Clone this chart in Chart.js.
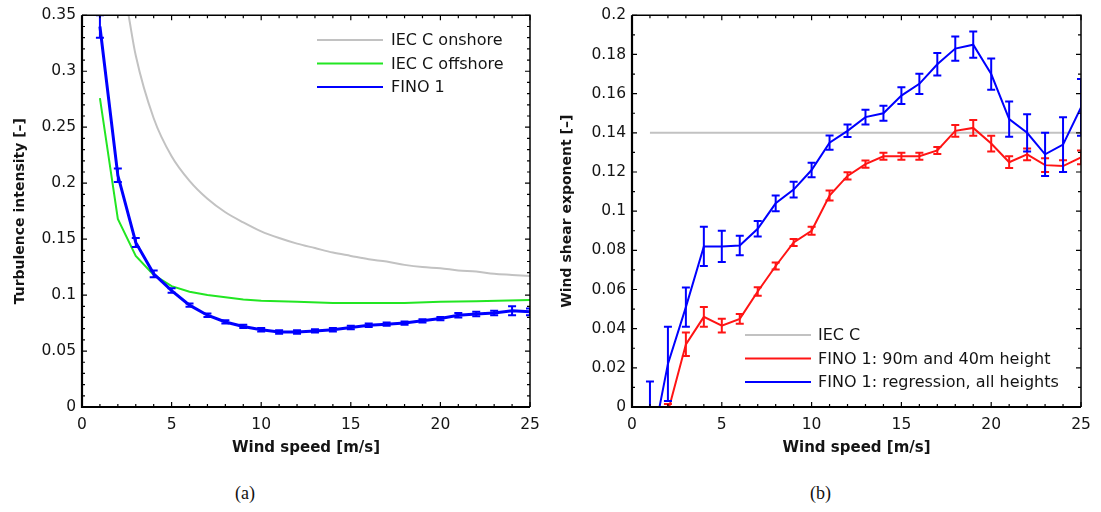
<!DOCTYPE html>
<html><head><meta charset="utf-8">
<script src="https://cdn.jsdelivr.net/npm/chart.js@4/dist/chart.umd.min.js"></script>
<style>
html,body{margin:0;padding:0;background:#fff;}
body{width:1101px;height:512px;position:relative;overflow:hidden;}
#wa{position:absolute;left:0;top:0;width:550px;height:470px;}
#wb{position:absolute;left:550px;top:0;width:551px;height:470px;}
.cap{position:absolute;top:482px;line-height:22px;font-family:"Liberation Serif",serif;font-size:18px;color:#111;}
</style></head><body>
<div id="wa"><canvas id="ca" width="550" height="470"></canvas></div>
<div id="wb"><canvas id="cb" width="551" height="470"></canvas></div>
<div class="cap" style="left:235px">(a)</div>
<div class="cap" style="left:810px">(b)</div>
<script>
// ---------- data ----------
const windSpeed = [1,2,3,4,5,6,7,8,9,10,11,12,13,14,15,16,17,18,19,20,21,22,23,24,25];
const xTickVals = [0,5,10,15,20,25];
const tiTickVals = [0,0.05,0.1,0.15,0.2,0.25,0.3,0.35];
const shearTickVals = [0,0.02,0.04,0.06,0.08,0.1,0.12,0.14,0.16,0.18,0.2];

// (a) turbulence intensity
const onshoreWS = [2.6,3,4,5,6,7,8,9,10,11,12,13,14,15,16,17,18,19,20,21,22,23,24,25];
const onshoreTI = [0.350,0.314,0.258,0.224,0.202,0.186,0.174,0.165,0.157,0.151,0.146,0.142,0.138,0.135,0.132,0.130,0.127,0.125,0.124,0.122,0.121,0.119,0.118,0.117];
const offshoreWS = [1,2,3,4,5,6,7,8,9,10,12,14,16,18,20,22,25];
const offshoreTI = [0.276,0.168,0.135,0.118,0.108,0.103,0.100,0.098,0.096,0.095,0.094,0.093,0.093,0.093,0.094,0.0945,0.0955];
const finoTI    = [0.340,0.207,0.147,0.119,0.104,0.091,0.082,0.076,0.072,0.069,0.067,0.067,0.068,0.069,0.071,0.073,0.074,0.075,0.077,0.079,0.082,0.083,0.084,0.086,0.085];
const finoTIErr = [0.010,0.006,0.004,0.003,0.002,0.0015,0.0015,0.0015,0.0015,0.0015,0.0015,0.0015,0.0015,0.0015,0.0015,0.0015,0.0015,0.0015,0.0015,0.0015,0.002,0.002,0.002,0.004,0.003];

// (b) wind shear exponent
const iecShearWS = [1,25];
const iecShear   = [0.14,0.14];
const shearRed    = [null,-0.0025,0.032,0.046,0.0415,0.045,0.059,0.072,0.084,0.090,0.108,0.118,0.124,0.128,0.128,0.128,0.131,0.141,0.1425,0.1345,0.125,0.129,0.1235,0.123,0.1275];
const shearRedErr = [null,0.004,0.006,0.005,0.0035,0.0025,0.0022,0.0018,0.0018,0.002,0.0025,0.0018,0.0018,0.0018,0.0018,0.0018,0.0018,0.003,0.004,0.004,0.003,0.003,0.0035,0.003,0.0035];
const shearBlue    = [-0.025,0.022,0.051,0.082,0.082,0.0825,0.091,0.104,0.111,0.121,0.135,0.141,0.148,0.150,0.159,0.165,0.175,0.183,0.185,0.170,0.147,0.140,0.129,0.134,0.153];
const shearBlueErr = [0.038,0.019,0.010,0.010,0.008,0.005,0.004,0.004,0.004,0.0037,0.0036,0.0032,0.0038,0.0038,0.0043,0.0052,0.0058,0.0062,0.0067,0.008,0.009,0.0095,0.011,0.014,0.0145];

// ---------- helpers ----------
const pts = (xs, ys) => xs.map((x, i) => ({x: x, y: ys[i]}));
const TXT = '#141414';
const FONT = '"DejaVu Sans", sans-serif';

const errorBars = {
  id: 'errorBars',
  afterDatasetsDraw(chart) {
    const {ctx, chartArea: a, scales: {x, y}} = chart;
    ctx.save();
    ctx.beginPath(); ctx.rect(a.left, a.top, a.width, a.height); ctx.clip();
    chart.data.datasets.forEach(ds => {
      if (!ds.errors) return;
      ctx.strokeStyle = ds.borderColor;
      ctx.lineWidth = ds.errorWidth || 1.5;
      const c = ds.capHalf || 4;
      ds.data.forEach((p, j) => {
        const e = ds.errors[j];
        if (p.y == null || e == null) return;
        const px = x.getPixelForValue(p.x);
        const y1 = y.getPixelForValue(p.y - e), y2 = y.getPixelForValue(p.y + e);
        ctx.beginPath();
        ctx.moveTo(px, y1); ctx.lineTo(px, y2);
        ctx.moveTo(px - c, y1); ctx.lineTo(px + c, y1);
        ctx.moveTo(px - c, y2); ctx.lineTo(px + c, y2);
        ctx.stroke();
      });
    });
    ctx.restore();
  }
};

const frameTicks = {
  id: 'frameTicks',
  afterDatasetsDraw(chart, args, o) {
    const {ctx, chartArea: a, scales: {x, y}} = chart;
    ctx.save();
    ctx.strokeStyle = '#000';
    ctx.lineWidth = 1.2;
    const isMajor = (v, m) => Math.abs(v / m - Math.round(v / m)) < 1e-6;
    for (let i = 0; x.min + i * o.xMinor <= x.max + 1e-9; i++) {
      const v = x.min + i * o.xMinor;
      const len = isMajor(v, o.xMajor) ? 5 : 3;
      const p = x.getPixelForValue(v);
      ctx.beginPath();
      ctx.moveTo(p, a.bottom); ctx.lineTo(p, a.bottom - len);
      ctx.moveTo(p, a.top); ctx.lineTo(p, a.top + len);
      ctx.stroke();
    }
    for (let i = 0; y.min + i * o.yMinor <= y.max + 1e-9; i++) {
      const v = y.min + i * o.yMinor;
      const len = isMajor(v, o.yMajor) ? 5 : 3;
      const p = y.getPixelForValue(v);
      ctx.beginPath();
      ctx.moveTo(a.left, p); ctx.lineTo(a.left + len, p);
      ctx.moveTo(a.right, p); ctx.lineTo(a.right - len, p);
      ctx.stroke();
    }
    ctx.lineWidth = 1.5;
    ctx.beginPath();
    ctx.moveTo(a.left, a.top); ctx.lineTo(a.right, a.top); ctx.lineTo(a.right, a.bottom);
    ctx.stroke();
    ctx.lineWidth = 2.2;
    ctx.beginPath();
    ctx.moveTo(a.left, a.top); ctx.lineTo(a.left, a.bottom); ctx.lineTo(a.right, a.bottom);
    ctx.stroke();
    ctx.restore();
  }
};

const lineLegend = {
  id: 'lineLegend',
  afterDraw(chart, args, o) {
    const ctx = chart.ctx;
    ctx.save();
    ctx.font = '16px ' + FONT;
    ctx.textBaseline = 'middle';
    ctx.fillStyle = TXT;
    chart.data.datasets.forEach((ds, i) => {
      const yy = o.y0 + i * o.dy;
      ctx.strokeStyle = ds.borderColor;
      ctx.lineWidth = 2;
      ctx.beginPath(); ctx.moveTo(o.x0, yy); ctx.lineTo(o.x1, yy); ctx.stroke();
      ctx.fillText(ds.label, o.tx, yy + 1);
    });
    ctx.restore();
  }
};

function makeOptions(c) {
  return {
    responsive: false, animation: false, devicePixelRatio: 1,
    layout: {padding: {top: 15, right: c.padRight, left: 0, bottom: 0}, autoPadding: false},
    elements: {point: {radius: 0, hoverRadius: 0}, line: {tension: 0}},
    plugins: {
      legend: {display: false}, tooltip: {enabled: false},
      frameTicks: {xMinor: 1, xMajor: 5, yMinor: 0.01, yMajor: c.yMajor},
      lineLegend: c.legend
    },
    scales: {
      x: {
        type: 'linear', min: 0, max: 25,
        afterBuildTicks: s => { s.ticks = xTickVals.map(v => ({value: v})); },
        afterFit: s => { s.height = 63; },
        grid: {display: false, drawTicks: false}, border: {display: false},
        ticks: {font: {family: FONT, size: 15.5}, color: TXT, padding: 9, maxRotation: 0, autoSkip: false,
                callback: v => String(v)},
        title: {display: true, text: 'Wind speed [m/s]', color: TXT,
                font: {family: FONT, size: 15, weight: 'bold'}, padding: {top: 0, bottom: 13}}
      },
      y: {
        type: 'linear', min: 0, max: c.yMax,
        afterBuildTicks: s => { s.ticks = c.yTicks.map(v => ({value: v})); },
        afterFit: s => { s.width = 82; },
        grid: {display: false, drawTicks: false}, border: {display: false},
        ticks: {font: {family: FONT, size: 15.5}, color: TXT, padding: 6, autoSkip: false,
                callback: v => String(+(+v).toFixed(2))},
        title: {display: true, text: c.yTitle, color: TXT,
                font: {family: FONT, size: 14, weight: 'bold'}, padding: {top: c.yTitlePad, bottom: 0}}
      }
    }
  };
}

new Chart(document.getElementById('ca'), {
  type: 'line',
  data: {datasets: [
    {label: 'IEC C onshore', data: pts(onshoreWS, onshoreTI), borderColor: '#c2c2c2', borderWidth: 2,
     cubicInterpolationMode: 'monotone', order: 2},
    {label: 'IEC C offshore', data: pts(offshoreWS, offshoreTI), borderColor: '#22e622', borderWidth: 2,
     order: 1},
    {label: 'FINO 1', data: pts(windSpeed, finoTI), errors: finoTIErr, borderColor: '#0000ff', borderWidth: 3,
     errorWidth: 2, capHalf: 4, order: 0}
  ]},
  options: makeOptions({padRight: 20, yMax: 0.35, yMajor: 0.05, yTicks: tiTickVals,
    yTitle: 'Turbulence intensity [–]', yTitlePad: 12,
    legend: {x0: 317, x1: 383, tx: 391, y0: 40, dy: 23.5}}),
  plugins: [errorBars, frameTicks, lineLegend]
});

new Chart(document.getElementById('cb'), {
  type: 'line',
  data: {datasets: [
    {label: 'IEC C', data: pts(iecShearWS, iecShear), borderColor: '#c2c2c2', borderWidth: 2, order: 2},
    {label: 'FINO 1: 90m and 40m height', data: pts(windSpeed, shearRed), errors: shearRedErr,
     borderColor: '#ff1414', borderWidth: 2, errorWidth: 2, capHalf: 4, order: 1},
    {label: 'FINO 1: regression, all heights', data: pts(windSpeed, shearBlue), errors: shearBlueErr,
     borderColor: '#0000ff', borderWidth: 2, errorWidth: 2, capHalf: 4, order: 0}
  ]},
  options: makeOptions({padRight: 20, yMax: 0.2, yMajor: 0.02, yTicks: shearTickVals,
    yTitle: 'Wind shear exponent [–]', yTitlePad: 9,
    legend: {x0: 195, x1: 261, tx: 268, y0: 335, dy: 23.5}}),
  plugins: [errorBars, frameTicks, lineLegend]
});
</script>
</body></html>
